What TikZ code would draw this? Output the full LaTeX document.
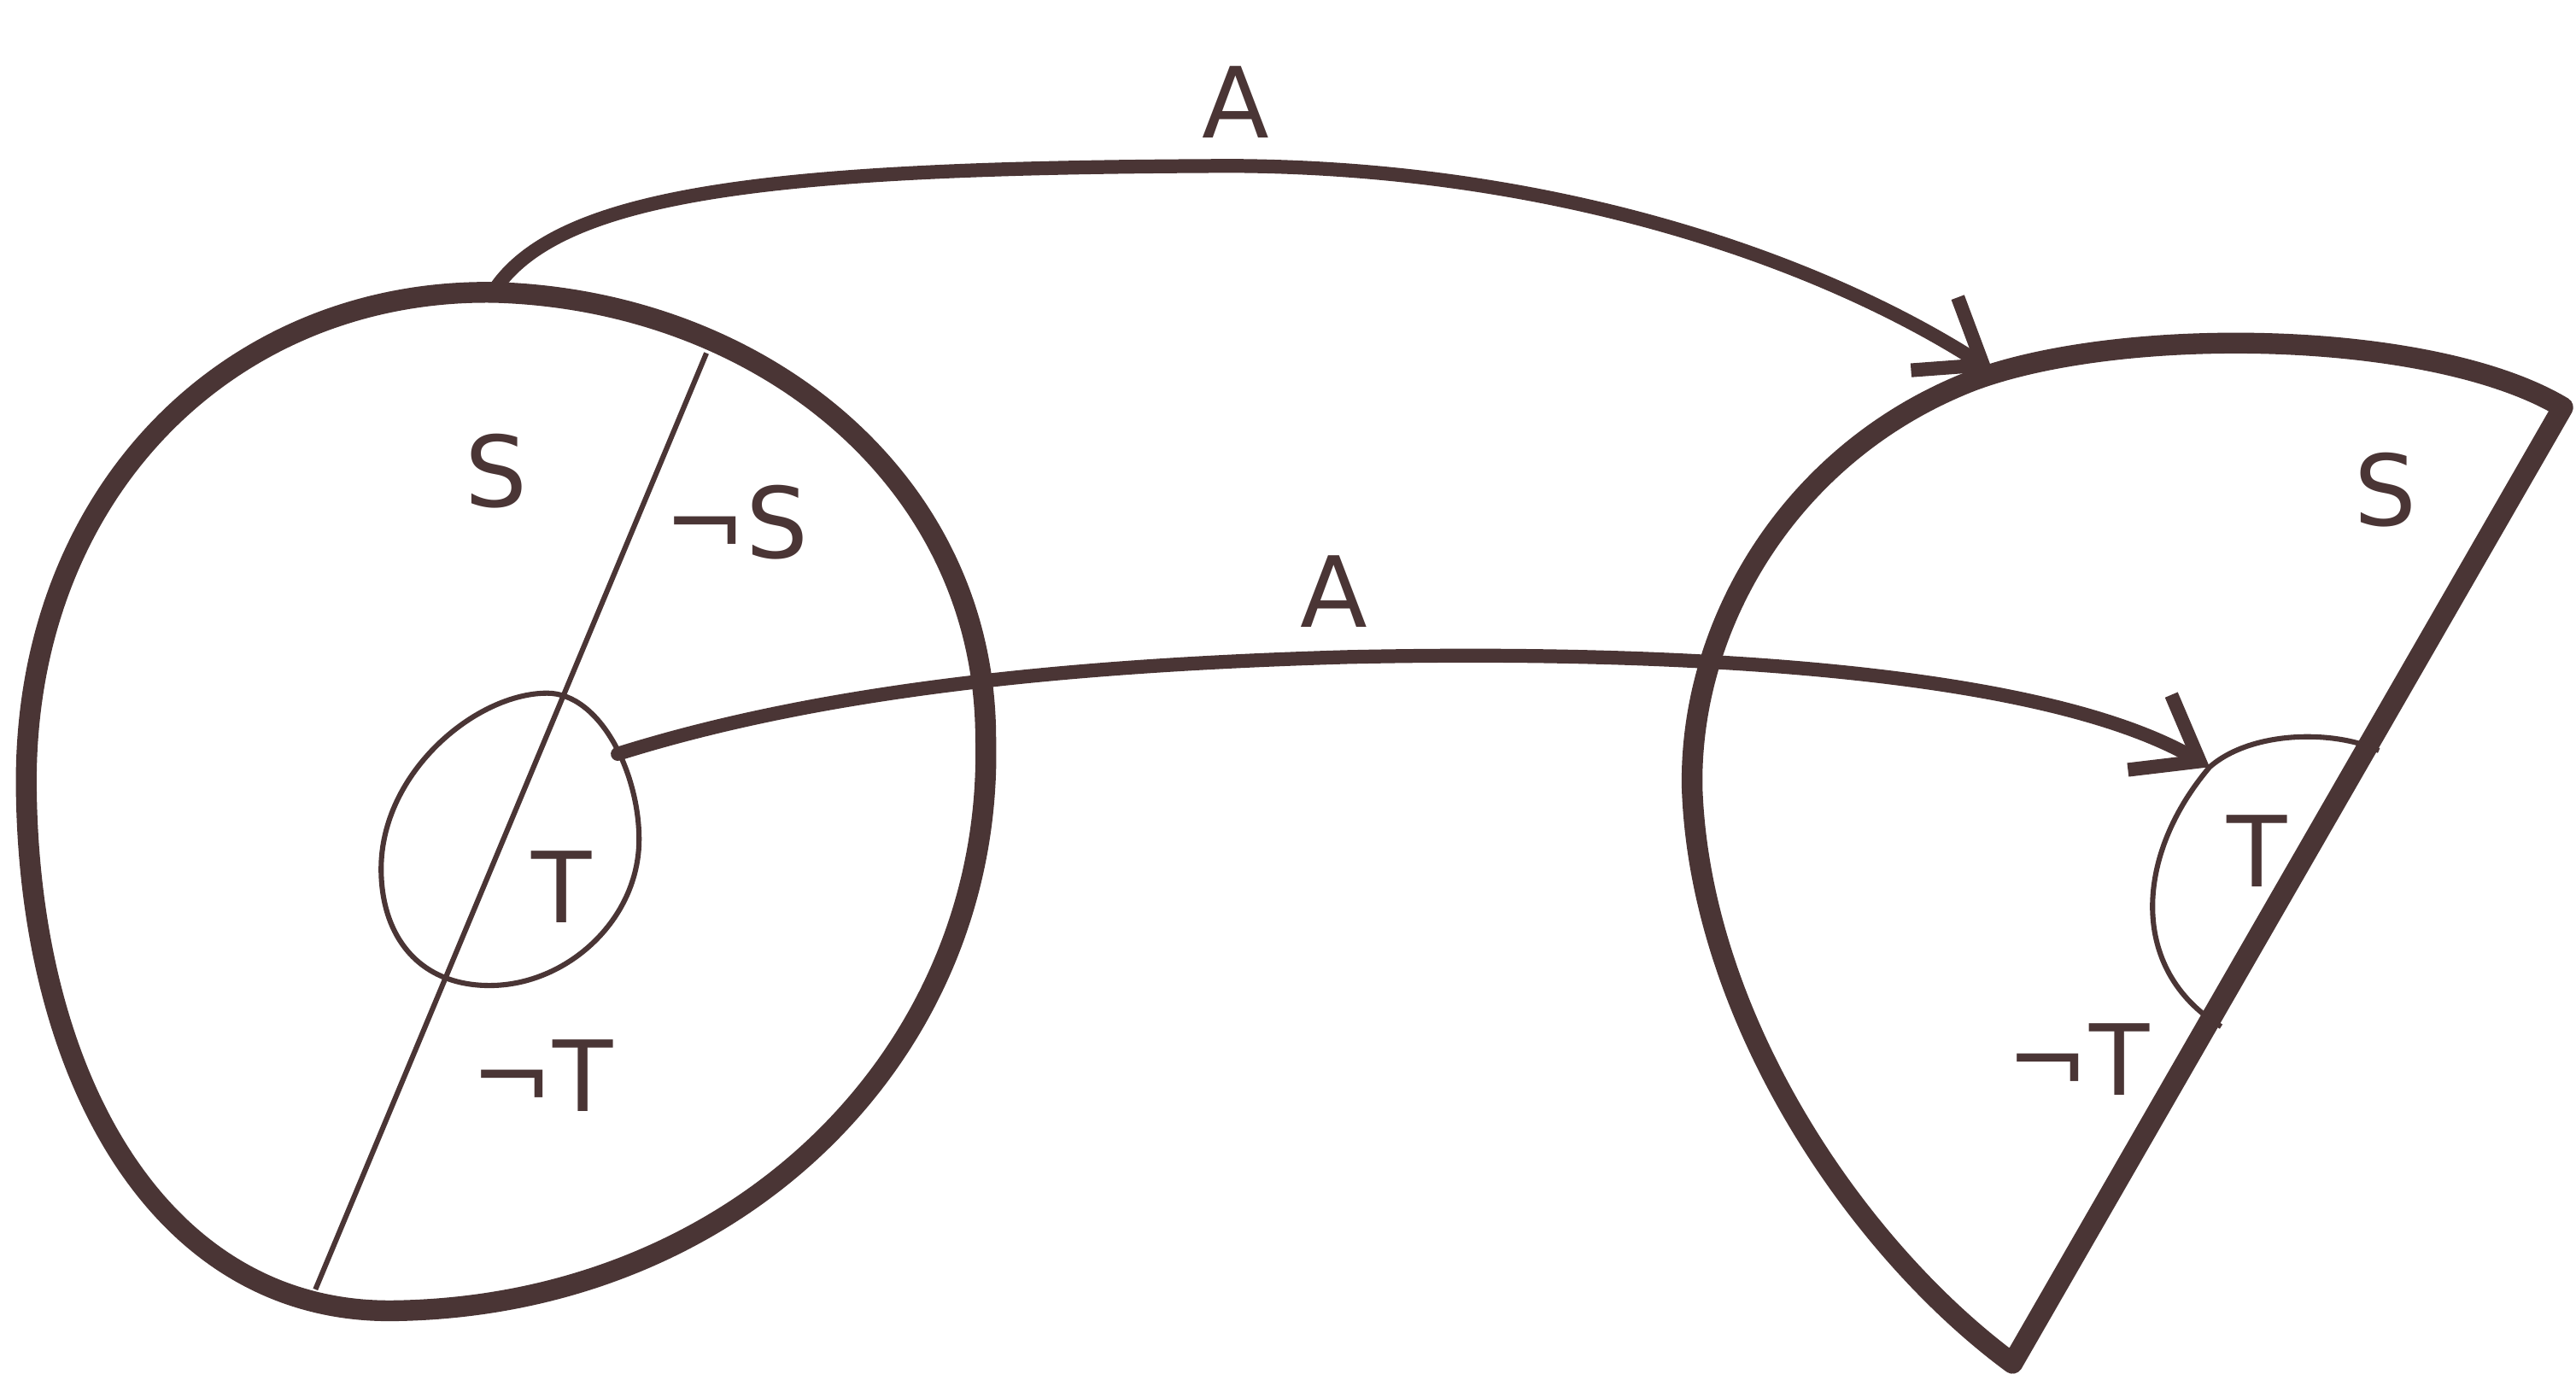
\documentclass[tikz,border=0pt]{standalone}
\usepackage{fontspec}
\setsansfont{DejaVu Sans}
\usetikzlibrary{arrows.meta}
\definecolor{ink}{HTML}{4A3535}
\begin{document}
\begin{tikzpicture}[x=0.01cm,y=-0.01cm,
  thick outline/.style={draw=ink,line width=3.6pt,line join=round,line cap=round},
  thin line/.style={draw=ink,line width=0.9pt},
  arrowline/.style={draw=ink,line width=2.4pt,line cap=round,-{Straight Barb[length=10pt,width=15pt,line width=2.4pt]}},
  lab/.style={text=ink,font=\sffamily\fontsize{17}{19}\selectfont,inner sep=0pt}]
\useasboundingbox (0,0) rectangle (1568,840);
% left region
\coordinate (topstart) at (300,178);
\draw[thick outline] (topstart)
  .. controls (460,182) and (600,290) .. (600,450)
  .. controls (605,640) and (450,795) .. (240,798)
  .. controls (100,800) and (18,660) .. (16,480)
  .. controls (14,300) and (140,176) .. cycle;
\draw[thin line] (430,215) -- (192,785);
\draw[thin line] (333,422)
  .. controls (365,422) and (389,470) .. (389,511)
  .. controls (389,560) and (345,600) .. (298,600)
  .. controls (255,600) and (232,570) .. (232,529)
  .. controls (232,470) and (290,422) .. cycle;
\coordinate (midstart) at (376,459);
% right region
\coordinate (rtop) at (1560,248);
\coordinate (rbot) at (1225,830);
\draw[thick outline] (rbot) -- (rtop)
  .. controls (1480,200) and (1290,198) .. (1200,232)
  .. controls (1090,275) and (1028,380) .. (1030,480)
  .. controls (1035,620) and (1130,760) .. (rbot);
\coordinate (topend) at (1213,226);
\coordinate (midend) at (1345,467);
\draw[thin line] (1448,457) .. controls (1420,444) and (1370,445) .. (midend)
  .. controls (1300,520) and (1295,590) .. (1352,625);
% arrows
\draw[arrowline] (topstart) .. controls (340,115) and (480,102) .. (750,101)
  .. controls (950,102) and (1110,160) .. (topend);
\draw[arrowline] (midstart) .. controls (500,420) and (650,405) .. (820,400)
  .. controls (1050,395) and (1250,412) .. (midend);
% labels
\node[lab] (A1) at (752,62) {A};
\node[lab] (A2) at (812,360) {A};
\node[lab] (S1) at (302,287) {S};
\node[lab] (nS1) at (448,318) {¬S};
\node[lab] (T1) at (342,540) {T};
\node[lab] (nT1) at (330,655) {¬T};
\node[lab] (S2) at (1452,298) {S};
\node[lab] (T2) at (1374,518) {T};
\node[lab] (nT2) at (1265,645) {¬T};
\end{tikzpicture}
\end{document}
